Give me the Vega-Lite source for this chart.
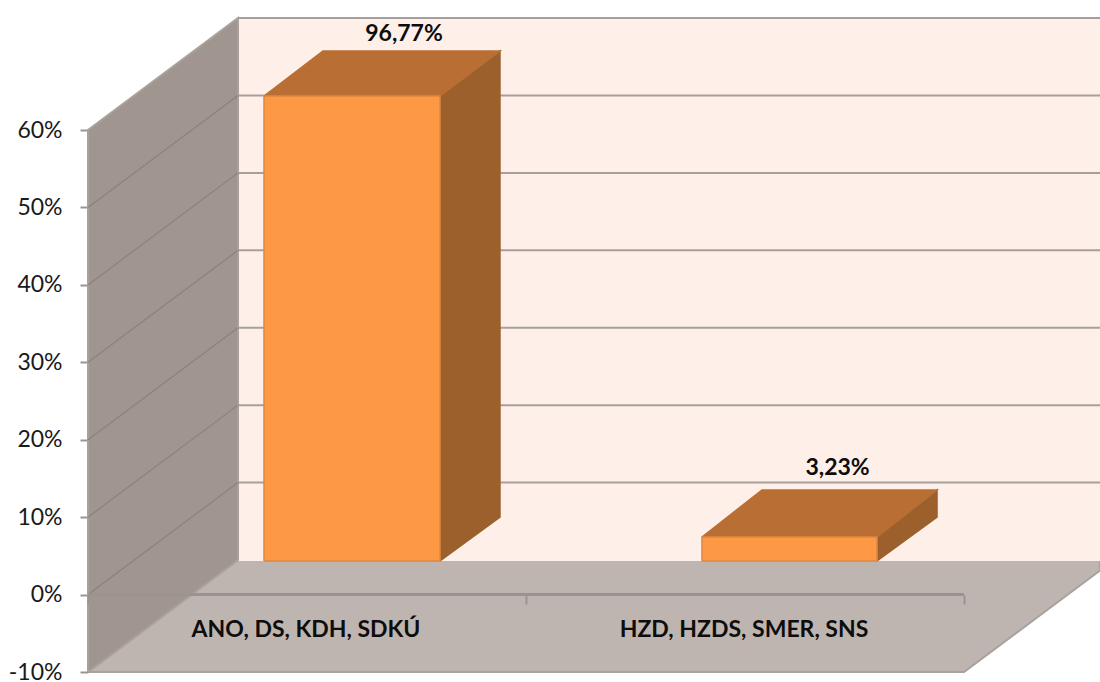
{
"$schema":"https://vega.github.io/schema/vega-lite/v6.json",
"width":1012,"height":672,
"autosize":{"type":"none"},
"padding":{"left":88,"top":0,"right":0,"bottom":10},
"background":"white",
"config":{"view":{"stroke":null}},
"datasets":{
"surfaces":[
{"shape":"floor","part":"floor","o":1,"x":0,"y":-10},{"shape":"floor","part":"floor","o":2,"x":2,"y":-10},{"shape":"floor","part":"floor","o":3,"x":2.3105,"y":3.11},{"shape":"floor","part":"floor","o":4,"x":2.3105,"y":4.47},{"shape":"floor","part":"floor","o":5,"x":0.3425,"y":4.47},{"shape":"floor","part":"floor","o":6,"x":0,"y":-10},
{"shape":"back","part":"back wall","o":1,"x":0.3425,"y":4.47},{"shape":"back","part":"back wall","o":2,"x":2.3105,"y":4.47},{"shape":"back","part":"back wall","o":3,"x":2.3105,"y":74.47},{"shape":"back","part":"back wall","o":4,"x":0.3425,"y":74.47},{"shape":"back","part":"back wall","o":5,"x":0.3425,"y":4.47},
{"shape":"left","part":"left wall","o":1,"x":0,"y":-10},{"shape":"left","part":"left wall","o":2,"x":0.3425,"y":4.47},{"shape":"left","part":"left wall","o":3,"x":0.3425,"y":74.47},{"shape":"left","part":"left wall","o":4,"x":0,"y":60},{"shape":"left","part":"left wall","o":5,"x":0,"y":-10}
],
"grid":[
{"g":"b0","x":0.3425,"y":14.47},{"g":"b0","x":2.3105,"y":14.47},
{"g":"b10","x":0.3425,"y":24.47},{"g":"b10","x":2.3105,"y":24.47},
{"g":"b20","x":0.3425,"y":34.47},{"g":"b20","x":2.3105,"y":34.47},
{"g":"b30","x":0.3425,"y":44.47},{"g":"b30","x":2.3105,"y":44.47},
{"g":"b40","x":0.3425,"y":54.47},{"g":"b40","x":2.3105,"y":54.47},
{"g":"b50","x":0.3425,"y":64.47},{"g":"b50","x":2.3105,"y":64.47},
{"g":"b60","x":0.3425,"y":74.47},{"g":"b60","x":2.3105,"y":74.47}
],
"wallgrid":[
{"g":"w0","x":0,"y":0},{"g":"w0","x":0.3425,"y":14.47},
{"g":"w10","x":0,"y":10},{"g":"w10","x":0.3425,"y":24.47},
{"g":"w20","x":0,"y":20},{"g":"w20","x":0.3425,"y":34.47},
{"g":"w30","x":0,"y":30},{"g":"w30","x":0.3425,"y":44.47},
{"g":"w40","x":0,"y":40},{"g":"w40","x":0.3425,"y":54.47},
{"g":"w50","x":0,"y":50},{"g":"w50","x":0.3425,"y":64.47}
],
"axisline":[{"x":0,"y":0},{"x":2,"y":0}],
"bars":[
{"shape":"a-side","part":"side","o":1,"x":0.8037,"y":4.34},{"shape":"a-side","part":"side","o":2,"x":0.9406,"y":10.02},{"shape":"a-side","part":"side","o":3,"x":0.9406,"y":70.2},{"shape":"a-side","part":"side","o":4,"x":0.8037,"y":64.4},{"shape":"a-side","part":"side","o":5,"x":0.8037,"y":4.34},
{"shape":"a-top","part":"top","o":1,"x":0.4018,"y":64.4},{"shape":"a-top","part":"top","o":2,"x":0.8037,"y":64.4},{"shape":"a-top","part":"top","o":3,"x":0.9406,"y":70.2},{"shape":"a-top","part":"top","o":4,"x":0.5365,"y":70.2},{"shape":"a-top","part":"top","o":5,"x":0.4018,"y":64.4},
{"shape":"a-front","part":"front","o":1,"x":0.4018,"y":4.34},{"shape":"a-front","part":"front","o":2,"x":0.8037,"y":4.34},{"shape":"a-front","part":"front","o":3,"x":0.8037,"y":64.4},{"shape":"a-front","part":"front","o":4,"x":0.4018,"y":64.4},{"shape":"a-front","part":"front","o":5,"x":0.4018,"y":4.34},
{"shape":"b-side","part":"side","o":1,"x":1.8014,"y":4.34},{"shape":"b-side","part":"side","o":2,"x":1.9384,"y":10.02},{"shape":"b-side","part":"side","o":3,"x":1.9384,"y":13.51},{"shape":"b-side","part":"side","o":4,"x":1.8014,"y":7.44},{"shape":"b-side","part":"side","o":5,"x":1.8014,"y":4.34},
{"shape":"b-top","part":"top","o":1,"x":1.4018,"y":7.44},{"shape":"b-top","part":"top","o":2,"x":1.8014,"y":7.44},{"shape":"b-top","part":"top","o":3,"x":1.9384,"y":13.51},{"shape":"b-top","part":"top","o":4,"x":1.5388,"y":13.51},{"shape":"b-top","part":"top","o":5,"x":1.4018,"y":7.44},
{"shape":"b-front","part":"front","o":1,"x":1.4018,"y":4.34},{"shape":"b-front","part":"front","o":2,"x":1.8014,"y":4.34},{"shape":"b-front","part":"front","o":3,"x":1.8014,"y":7.44},{"shape":"b-front","part":"front","o":4,"x":1.4018,"y":7.44},{"shape":"b-front","part":"front","o":5,"x":1.4018,"y":4.34}
],
"values":[{"x":0.7215,"y":72.4,"t":"96,77%"},{"x":1.7114,"y":16.35,"t":"3,23%"}],
"cats":[{"x":0.4977,"y":-4.57,"t":"ANO, DS, KDH, SDKÚ"},{"x":1.4977,"y":-4.57,"t":"HZD, HZDS, SMER, SNS"}]
},
"encoding":{
"x":{"field":"x","type":"quantitative","scale":{"domain":[0,2.3105],"nice":false,"zero":false},"axis":{"title":null,"values":[0,1,2],"labels":false,"domain":false,"grid":false,"tickSize":9,"tickWidth":2,"tickColor":"#9a9490","offset":-77,"zindex":1}},
"y":{"field":"y","type":"quantitative","scale":{"domain":[-10,76.8],"nice":false,"zero":false},"axis":{"title":null,"values":[-10,0,10,20,30,40,50,60],"labelExpr":"datum.value + '%'","domain":false,"grid":false,"tickSize":8,"tickWidth":2,"tickColor":"#9a9490","labelPadding":18,"labelFont":"Lato","labelFontSize":23,"labelColor":"#1a1a1a"}}
},
"layer":[
{"data":{"name":"surfaces"},"mark":{"type":"line","strokeWidth":2,"strokeJoin":"miter"},"encoding":{
"detail":{"field":"shape"},"order":{"field":"o","type":"quantitative"},
"fill":{"field":"part","type":"nominal","legend":null,"scale":{"domain":["floor","back wall","left wall","side","top","front"],"range":["#bfb5b0","#feefe8","#a0958f","#9b602b","#b96f33","#fd9845"]}},
"stroke":{"field":"part","type":"nominal","legend":null,"scale":{"domain":["floor","back wall","left wall","side","top","front"],"range":["#a8a29e","#feefe8","#a8a29e","#9b602b","#b96f33","#dd8840"]}}}},
{"data":{"name":"grid"},"mark":{"type":"line","stroke":"#a5a09c","strokeWidth":2},"encoding":{"detail":{"field":"g"}}},
{"data":{"name":"wallgrid"},"mark":{"type":"line","stroke":"#8b827d","strokeWidth":1.2},"encoding":{"detail":{"field":"g"}}},
{"data":{"name":"axisline"},"mark":{"type":"line","stroke":"#9a9490","strokeWidth":3}},
{"data":{"name":"bars"},"mark":{"type":"line","strokeWidth":1.5,"strokeJoin":"miter"},"encoding":{
"detail":{"field":"shape"},"order":{"field":"o","type":"quantitative"},
"fill":{"field":"part","type":"nominal","legend":null,"scale":{"domain":["floor","back wall","left wall","side","top","front"],"range":["#bfb5b0","#feefe8","#a0958f","#9b602b","#b96f33","#fd9845"]}},
"stroke":{"field":"part","type":"nominal","legend":null,"scale":{"domain":["floor","back wall","left wall","side","top","front"],"range":["#a8a29e","#feefe8","#a8a29e","#9b602b","#b96f33","#dd8840"]}}}},
{"data":{"name":"values"},"mark":{"type":"text","font":"Lato","fontWeight":"bold","fontSize":23,"color":"#0d0d0d","align":"center","baseline":"middle"},"encoding":{"text":{"field":"t"}}},
{"data":{"name":"cats"},"mark":{"type":"text","font":"Lato","fontWeight":"bold","fontSize":23,"color":"#0d0d0d","align":"center","baseline":"middle"},"encoding":{"text":{"field":"t"}}}
]
}
